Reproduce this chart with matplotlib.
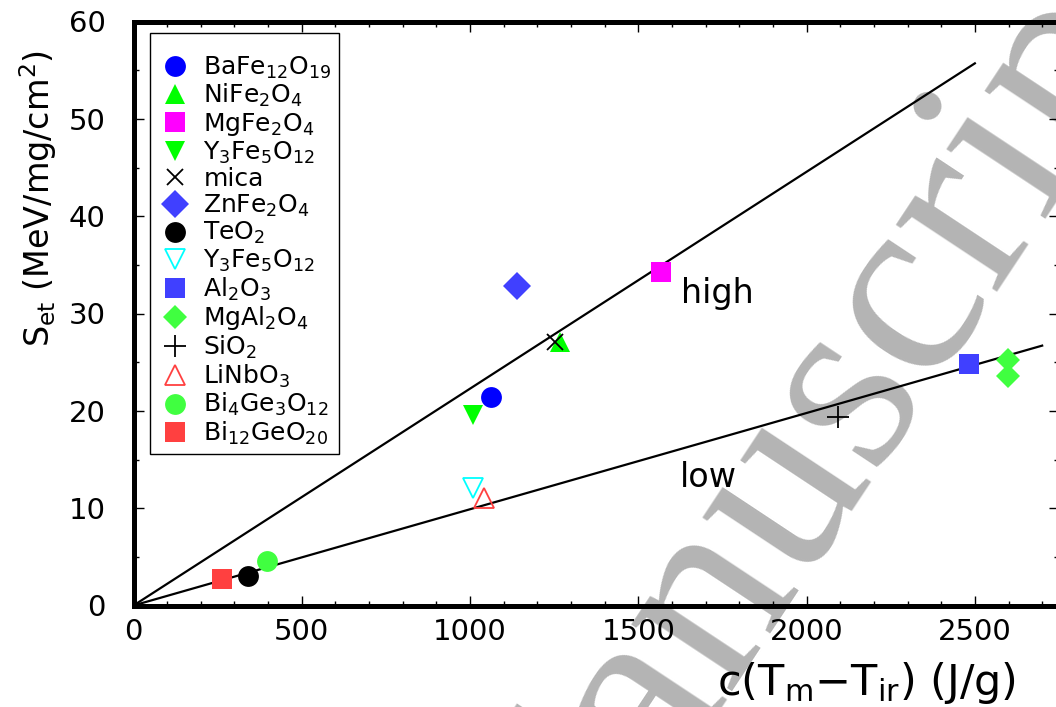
import matplotlib
matplotlib.use("Agg")
import matplotlib.pyplot as plt
from matplotlib.ticker import MultipleLocator

plt.rcParams['font.family'] = ['DejaVu Sans']
plt.rcParams['mathtext.default'] = 'regular'

# ---- data ----
labels = [r'BaFe$_{12}$O$_{19}$', r'NiFe$_2$O$_4$', r'MgFe$_2$O$_4$', r'Y$_3$Fe$_5$O$_{12}$',
          'mica', r'ZnFe$_2$O$_4$', r'TeO$_2$', r'Y$_3$Fe$_5$O$_{12}$', r'Al$_2$O$_3$',
          r'MgAl$_2$O$_4$', r'SiO$_2$', r'LiNbO$_3$', r'Bi$_4$Ge$_3$O$_{12}$', r'Bi$_{12}$GeO$_{20}$']
x_vals = [[1062], [1266], [1567], [1008], [1252], [1139], [340], [1008], [2484],
          [2597, 2597], [2093], [1041], [396], [263]]
y_vals = [[21.4], [27.1], [34.3], [19.6], [27.1], [32.8], [3.0], [12.1], [24.8],
          [25.2, 23.6], [19.4], [11.0], [4.6], [2.7]]
markers = ['o', '^', 's', 'v', 'x', 'D', 'o', 'v', 's', 'D', '+', '^', 'o', 's']
colors = ['#0000ff', '#00ff00', '#ff00ff', '#00ff00', '#000000', '#4040ff', '#000000',
          '#00ffff', '#4040ff', '#40ff40', '#000000', '#ff4040', '#40ff40', '#ff4040']
filled = [True, True, True, True, True, True, True, False, True, True, True, False, True, True]
sizes = [15, 14.5, 15, 14.5, 12, 14, 15, 14.5, 15, 12, 16, 14.5, 15, 15]

high_x = [0, 2500]
high_y = [0, 55.7]
low_x = [0, 2700]
low_y = [0, 26.7]

fig = plt.figure(figsize=(10.56, 7.07), dpi=100)
W, H = 1056, 707

# watermark (behind axes)
fig.text(533 / W, 1 - 980 / H, 'Manuscript', family='Liberation Serif', fontsize=188.6,
         color='#b4b4b4', rotation=56.5, rotation_mode='anchor', ha='left', va='baseline',
         zorder=-5, fontweight='normal')

ax = fig.add_axes([133.5 / W, 1 - 605.5 / H, (1059 - 133.5) / W, (605.5 - 21.5) / H])
ax.set_facecolor('none')

ax.plot(high_x, high_y, color='black', lw=1.6, zorder=2)
ax.plot(low_x, low_y, color='black', lw=1.6, zorder=2)

handles = []
for xs, ys, m, c, f, s, lab in zip(x_vals, y_vals, markers, colors, filled, sizes, labels):
    if m in ('x', '+'):
        ln, = ax.plot(xs, ys, linestyle='none', marker=m, ms=s, color=c, mew=1.3, label=lab, zorder=3)
    elif f:
        ln, = ax.plot(xs, ys, linestyle='none', marker=m, ms=s, color=c, mec=c, mew=0, label=lab, zorder=3)
    else:
        ln, = ax.plot(xs, ys, linestyle='none', marker=m, ms=s, mfc='none', mec=c, mew=1.3, label=lab, zorder=3)
    handles.append(ln)

ax.text(1626, 31.1, 'high', fontsize=24, va='baseline', ha='left')
ax.text(1623, 12.2, 'low', fontsize=24, va='baseline', ha='left')

ax.set_xlim(0, 2750)
ax.set_ylim(0, 60)
ax.xaxis.set_major_locator(MultipleLocator(500))
ax.xaxis.set_minor_locator(MultipleLocator(100))
ax.yaxis.set_major_locator(MultipleLocator(10))
ax.yaxis.set_minor_locator(MultipleLocator(5))
ax.tick_params(which='both', direction='in', top=True, right=True, width=1.0)
ax.tick_params(which='major', length=7.5, labelsize=21)
ax.tick_params(axis='x', which='major', pad=9)
ax.tick_params(axis='y', which='major', pad=20)
ax.tick_params(which='minor', length=3.6)
for sp in ax.spines.values():
    sp.set_linewidth(3.6)

leg = ax.legend(handles=handles, loc='upper left', bbox_to_anchor=(16.5 / 925.5, 1 - 11.5 / 584),
                fontsize=18, frameon=True, fancybox=False, edgecolor='black', framealpha=1,
                labelspacing=0.06, handletextpad=0.45, borderpad=0.28, handlelength=1.4,
                borderaxespad=0, numpoints=1, title=' ', title_fontsize=9)
leg.get_frame().set_linewidth(1.0)

fig.text(38 / W, 1 - 50 / H, r'S$_{et}$ (MeV/mg/cm$^2$)', rotation=90, ha='center', va='top', fontsize=24)
fig.text(1016 / W, 1 - 683 / H, r'c(T$_m$$-$T$_{ir}$) (J/g)', ha='right', va='center', fontsize=31)

fig.savefig('out.png', dpi=100)
